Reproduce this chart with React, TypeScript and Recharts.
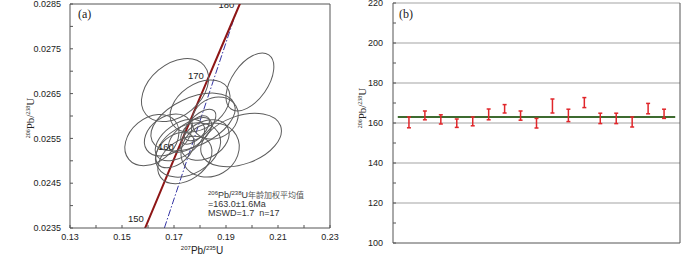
import React from "react";
import {
  ComposedChart,
  Scatter,
  Line,
  XAxis,
  YAxis,
  CartesianGrid,
  ReferenceLine,
  ErrorBar,
} from "recharts";

// ---------- (a) concordia diagram ----------
const X_TICKS_A = [0.13, 0.14, 0.15, 0.16, 0.17, 0.18, 0.19, 0.2, 0.21, 0.22, 0.23];
const Y_TICKS_A = [0.0235, 0.024, 0.0245, 0.025, 0.0255, 0.026, 0.0265, 0.027, 0.0275, 0.028, 0.0285];

// concordia curve (age in Ma -> 207Pb/235U, 206Pb/238U)
const CONCORDIA_AGE = [145, 150, 155, 160, 165, 170, 175, 180, 185];
const CONCORDIA_X = [0.1535, 0.1592, 0.16492, 0.17067, 0.17645, 0.18226, 0.18809, 0.19396, 0.19985];
const CONCORDIA_Y = [0.022748, 0.023542, 0.024336, 0.02513, 0.025926, 0.026722, 0.027518, 0.028316, 0.029114];
const LABELLED_AGES = [150, 160, 170, 180];

// dash-dot reference line
const REF_X = [0.1663, 0.1935];
const REF_Y = [0.0235, 0.02825];

// spot ellipses: centre, half widths, error correlation
const ELL_X = [0.1704, 0.1992, 0.1958, 0.1615, 0.18, 0.1773, 0.1839, 0.1742, 0.1704, 0.1762, 0.1781, 0.18, 0.1723, 0.1819, 0.1677, 0.1858, 0.1754];
const ELL_Y = [0.02658, 0.02676, 0.025464, 0.025464, 0.026223, 0.025866, 0.025241, 0.025018, 0.025241, 0.025576, 0.025688, 0.025799, 0.025464, 0.025464, 0.025576, 0.025955, 0.025241];
const ELL_SX = [0.0129, 0.0092, 0.0155, 0.0104, 0.0115, 0.0162, 0.0112, 0.0104, 0.0074, 0.0083, 0.0055, 0.0061, 0.0095, 0.0093, 0.0091, 0.0089, 0.0125];
const ELL_SY = [0.000704, 0.000646, 0.000597, 0.000572, 0.000583, 0.000645, 0.000604, 0.00053, 0.000396, 0.000388, 0.000318, 0.000353, 0.000463, 0.000453, 0.000468, 0.00047, 0.000606];
const ELL_RHO = [0.36, 0.52, 0.35, 0.3, 0.36, 0.46, 0.12, 0.36, 0.42, 0.6, 0.6, 0.6, 0.48, 0.31, 0.33, 0.16, 0.32];

// ---------- (b) weighted mean ----------
const SPOTS = [1, 2, 3, 4, 5, 6, 7, 8, 9, 10, 11, 12, 13, 14, 15, 16, 17];
const SPOT_AGE = [160.3, 163.8, 161.8, 159.9, 160.8, 164.3, 167.1, 163.7, 159.9, 168.5, 163.8, 170.2, 162.3, 162.3, 160.5, 167.2, 164.6];
const SPOT_ERR = [2.7, 2.2, 2.3, 2.1, 2.2, 2.7, 2.1, 2.3, 2.4, 3.5, 3.1, 2.5, 2.6, 2.6, 2.5, 2.6, 2.3];
const MEAN_AGE = 163.0;
const MEAN_SPAN = [0.3, 17.7];
const Y_TICKS_B = [100, 110, 120, 130, 140, 150, 160, 170, 180, 190, 200, 210, 220];
const Y_GRID_B = [120, 140, 160, 180, 200, 220];

const concordia = CONCORDIA_AGE.map((age, i) => ({ age, x: CONCORDIA_X[i], y: CONCORDIA_Y[i] }));
const ageMarks = concordia.filter((p) => LABELLED_AGES.includes(p.age));
const refLine = REF_X.map((x, i) => ({ x, y: REF_Y[i] }));
const ellipses = ELL_X.map((x, i) => ({ x, y: ELL_Y[i], sx: ELL_SX[i], sy: ELL_SY[i], rho: ELL_RHO[i] }));
const spots = SPOTS.map((x, i) => ({ x, y: SPOT_AGE[i], err: SPOT_ERR[i] }));

const SANS = "'Liberation Sans', Arial, sans-serif";
const SERIF = "'Liberation Serif', 'Times New Roman', serif";
const AXIS = "#555";

// chart (a) geometry, used to turn ellipse half widths into pixels
const A_W = 350;
const A_H = 256;
const A_MARGIN = { top: 4, right: 20, bottom: 0, left: 0 };
const A_YAXIS_W = 70;
const A_XAXIS_H = 28;
const A_PLOT_W = A_W - A_MARGIN.left - A_MARGIN.right - A_YAXIS_W;
const A_PLOT_H = A_H - A_MARGIN.top - A_MARGIN.bottom - A_XAXIS_H;
const KX = A_PLOT_W / (X_TICKS_A[X_TICKS_A.length - 1] - X_TICKS_A[0]);
const KY = A_PLOT_H / (Y_TICKS_A[Y_TICKS_A.length - 1] - Y_TICKS_A[0]);

function EllipseShape(props: any) {
  const { cx, cy, payload } = props;
  const hx = payload.sx * KX;
  const hy = payload.sy * KY;
  const a = hx * hx;
  const d = hy * hy;
  const b = -payload.rho * hx * hy; // screen y points down
  const mid = (a + d) / 2;
  const diff = Math.sqrt(((a - d) / 2) ** 2 + b * b);
  const rx = Math.sqrt(mid + diff);
  const ry = Math.sqrt(Math.max(mid - diff, 0));
  const ang = (0.5 * Math.atan2(2 * b, a - d) * 180) / Math.PI;
  return (
    <ellipse
      cx={cx}
      cy={cy}
      rx={rx}
      ry={ry}
      transform={`rotate(${ang} ${cx} ${cy})`}
      fill="none"
      stroke="#5c5c5c"
      strokeWidth={1}
    />
  );
}

function AgeLabel(props: any) {
  const { cx, cy, payload } = props;
  return (
    <text x={cx - 2} y={cy - 4.5} textAnchor="end" fontSize={9.5} fontFamily={SANS} fill="#222">
      {payload.age}
    </text>
  );
}

function ConcordiaChart() {
  return (
    <ComposedChart width={A_W} height={A_H} margin={A_MARGIN}>
      <XAxis
        type="number"
        dataKey="x"
        domain={[0.13, 0.23]}
        ticks={X_TICKS_A}
        allowDataOverflow
        height={A_XAXIS_H}
        interval={0}
        tickFormatter={(v: number, i: number) => (i % 2 === 0 ? v.toFixed(2) : "")}
        tick={{ fontSize: 9, fill: "#222", fontFamily: SANS }}
        tickSize={-3}
        tickMargin={9}
        stroke={AXIS}
      />
      <YAxis
        type="number"
        dataKey="y"
        domain={[0.0235, 0.0285]}
        ticks={Y_TICKS_A}
        allowDataOverflow
        width={A_YAXIS_W}
        interval={0}
        tickFormatter={(v: number, i: number) => (i % 2 === 0 ? v.toFixed(4) : "")}
        tick={{ fontSize: 9, fill: "#222", fontFamily: SANS }}
        tickSize={-3}
        tickMargin={12}
        stroke={AXIS}
      />
      <ReferenceLine y={0.0285} stroke={AXIS} />
      <ReferenceLine x={0.23} stroke={AXIS} />
      <Scatter data={ellipses} shape={(p: any) => <EllipseShape {...p} />} isAnimationActive={false} />
      <Line
        data={refLine}
        dataKey="y"
        type="linear"
        stroke="#3535a5"
        strokeWidth={1}
        strokeDasharray="7 2 1.5 2"
        dot={false}
        isAnimationActive={false}
      />
      <Line
        data={concordia}
        dataKey="y"
        type="linear"
        stroke="#8e1616"
        strokeWidth={2}
        dot={false}
        isAnimationActive={false}
      />
      <Scatter data={ageMarks} shape={(p: any) => <AgeLabel {...p} />} isAnimationActive={false} />
    </ComposedChart>
  );
}

function MeanChart() {
  return (
    <ComposedChart width={350} height={256} margin={{ top: 3, right: 20, bottom: 0, left: 0 }}>
      <CartesianGrid vertical={false} horizontalValues={Y_GRID_B} stroke="#c2c2c2" strokeWidth={1.5} />
      <XAxis
        type="number"
        dataKey="x"
        domain={[0, 18]}
        tick={false}
        tickLine={false}
        height={13}
        stroke={AXIS}
      />
      <YAxis
        type="number"
        dataKey="y"
        domain={[100, 220]}
        ticks={Y_TICKS_B}
        width={43}
        interval={0}
        tickFormatter={(v: number) => (v % 20 === 0 ? String(v) : "")}
        tick={{ fontSize: 9, fill: "#222", fontFamily: SANS }}
        tickSize={-3}
        tickMargin={13}
        stroke={AXIS}
      />
      <ReferenceLine x={18} stroke={AXIS} />
      <ReferenceLine
        segment={[
          { x: MEAN_SPAN[0], y: MEAN_AGE },
          { x: MEAN_SPAN[1], y: MEAN_AGE },
        ]}
        stroke="#3e6b30"
        strokeWidth={2}
      />
      <Scatter data={spots} shape={() => <g />} isAnimationActive={false}>
        <ErrorBar dataKey="err" direction="y" width={2} stroke="#e0262a" strokeWidth={1.5} isAnimationActive={false} />
      </Scatter>
    </ComposedChart>
  );
}

function Labels() {
  return (
    <svg width={700} height={256} style={{ position: "absolute", left: 0, top: 0, pointerEvents: "none" }}>
      <text x={78} y={18} fontSize={12} fontFamily={SERIF} fill="#222">(a)</text>
      <text x={399} y={18} fontSize={12} fontFamily={SERIF} fill="#222">(b)</text>
      <text transform="rotate(-90 34 118)" x={34} y={118} textAnchor="middle" fontFamily={SERIF} fill="#222" fontSize={11}>
        <tspan fontSize={6} dy={-4}>206</tspan>
        <tspan dy={4}>Pb/</tspan>
        <tspan fontSize={6} dy={-4}>238</tspan>
        <tspan dy={4}>U</tspan>
      </text>
      <text transform="rotate(-90 366 108)" x={366} y={108} textAnchor="middle" fontFamily={SERIF} fill="#222" fontSize={11}>
        <tspan fontSize={6} dy={-4}>206</tspan>
        <tspan dy={4}>Pb/</tspan>
        <tspan fontSize={6} dy={-4}>238</tspan>
        <tspan dy={4}>U</tspan>
      </text>
      <text x={202} y={254} textAnchor="middle" fontFamily={SANS} fill="#222" fontSize={10}>
        <tspan fontSize={6} dy={-4}>207</tspan>
        <tspan dy={4}>Pb/</tspan>
        <tspan fontSize={6} dy={-4}>235</tspan>
        <tspan dy={4}>U</tspan>
      </text>
      <text x={208} y={197.5} fontFamily={SANS} fill="#333" fontSize={9}>
        <tspan fontSize={6} dy={-3}>206</tspan>
        <tspan dy={3}>Pb/</tspan>
        <tspan fontSize={6} dy={-3}>238</tspan>
        <tspan dy={3}>U</tspan>
        <tspan fontFamily="'Noto Sans CJK SC', sans-serif" fontSize={8} fill="#555">年龄加权平均值</tspan>
      </text>
      <text x={208} y={206.7} fontFamily={SANS} fill="#333" fontSize={9}>=163.0±1.6Ma</text>
      <text x={208} y={215.7} fontFamily={SANS} fill="#333" fontSize={9} style={{ whiteSpace: "pre" }}>
        MSWD=1.7  n=17
      </text>
    </svg>
  );
}

export default function App() {
  return (
    <div style={{ position: "absolute", left: 0, top: 0, width: 700, height: 256, background: "#fff" }}>
      <div style={{ position: "absolute", left: 0, top: 0 }}>
        <ConcordiaChart />
      </div>
      <div style={{ position: "absolute", left: 350, top: 0 }}>
        <MeanChart />
      </div>
      <Labels />
    </div>
  );
}
